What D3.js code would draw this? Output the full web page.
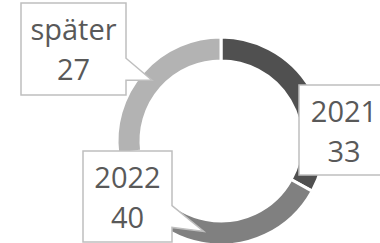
<!DOCTYPE html>
<html>
<head>
<meta charset="utf-8">
<script src="https://cdn.jsdelivr.net/npm/d3@7"></script>
<style>
  body { margin: 0; background: #fff; }
  svg { display: block; }
</style>
</head>
<body>
<div id="chart"></div>
<script>
// chart values
var categories = ["2021", "2022", "später"];
var values = [33, 40, 27];
var sliceColors = ["#505050", "#808080", "#b3b3b3"];

var svgWidth = 380;
var svgHeight = 243;

// donut geometry
var cx = 221, cy = 141;
var outerR = 104, innerR = 80;

// where each callout box sits (label placement)
var boxes = {
  "2021": { x: 299, y: 85, w: 90, h: 90 },
  "2022": { x: 83, y: 151, w: 89, h: 91 },
  "später": { x: 21, y: 3, w: 105, h: 92 }
};

var svg = d3.select("#chart")
  .append("svg")
  .attr("width", svgWidth)
  .attr("height", svgHeight);

var color = d3.scaleOrdinal()
  .domain(categories)
  .range(sliceColors);

var pie = d3.pie()
  .sort(null)
  .value(d => d.value);

var arc = d3.arc()
  .innerRadius(innerR)
  .outerRadius(outerR);

var data = categories.map((c, i) => ({ cat: c, value: values[i] }));
var arcs = pie(data);

var donut = svg.append("g")
  .attr("transform", `translate(${cx}, ${cy})`);

donut.selectAll("path")
  .data(arcs)
  .enter()
  .append("path")
  .attr("d", arc)
  .attr("fill", d => color(d.data.cat))
  .attr("stroke", "#fff")
  .attr("stroke-width", 3);

// callout outline: rectangle with a wedge pointing at the slice centroid
function calloutPath(b, tip) {
  var r = b.x + b.w, btm = b.y + b.h;
  var y1 = b.y + b.h * 0.6, y2 = b.y + b.h * 0.84;
  if (tip[0] > r + 2) {
    return `M${b.x},${b.y}H${r}V${y1}L${tip[0]},${tip[1]}L${r},${y2}V${btm}H${b.x}Z`;
  }
  if (tip[0] < b.x - 2) {
    return `M${b.x},${b.y}H${r}V${btm}H${b.x}V${y2}L${tip[0]},${tip[1]}L${b.x},${y1}Z`;
  }
  return `M${b.x},${b.y}H${r}V${btm}H${b.x}Z`;
}

var labels = svg.append("g");

arcs.forEach(function(d) {
  var b = boxes[d.data.cat];
  var c = arc.centroid(d);
  var tip = [c[0] + cx, c[1] + cy];

  labels.append("path")
    .attr("d", calloutPath(b, tip))
    .attr("fill", "#fff")
    .attr("stroke", "#bfbfbf")
    .attr("stroke-width", 1.5);

  var g = labels.append("g")
    .attr("font-family", "'Open Sans', sans-serif")
    .attr("font-size", 29)
    .attr("fill", "#595959")
    .attr("text-anchor", "middle");

  g.append("text")
    .attr("x", b.x + b.w / 2)
    .attr("y", b.y + 37)
    .text(d.data.cat);

  g.append("text")
    .attr("x", b.x + b.w / 2)
    .attr("y", b.y + 77)
    .text(d.data.value);
});
</script>
</body>
</html>
